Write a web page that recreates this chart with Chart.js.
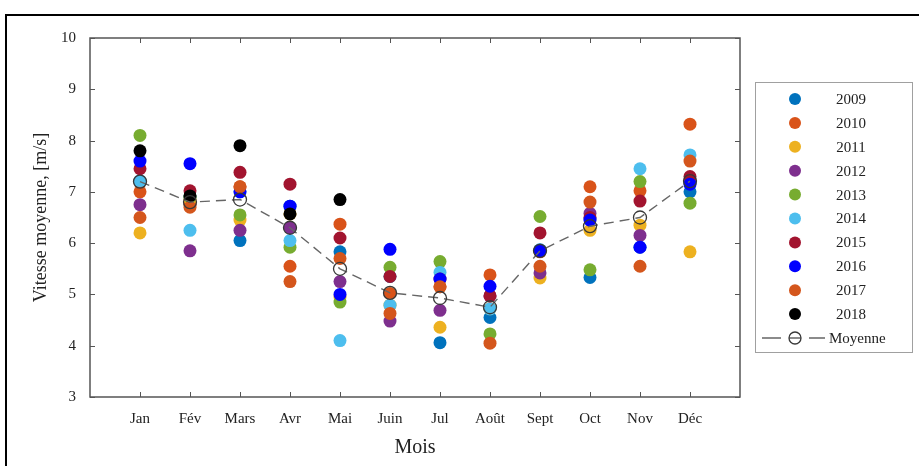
<!DOCTYPE html>
<html lang="fr">
<head>
<meta charset="utf-8">
<script src="https://cdn.jsdelivr.net/npm/chart.js@4/dist/chart.umd.min.js"></script>
<style>
  html, body { margin: 0; padding: 0; background: #fff; overflow: hidden; }
  #wrap { position: relative; width: 919px; height: 466px; }
  #frame { position: absolute; left: 5px; top: 14px; width: 1000px; height: 600px;
           border: 2px solid #000; box-sizing: border-box; pointer-events: none; }
  canvas { position: absolute; left: 0; top: 0; }
</style>
</head>
<body>
<div id="wrap">
  <canvas id="c" width="919" height="466"></canvas>
  <div id="frame"></div>
</div>
<script>
// Vitesse moyenne mensuelle du vent, par année (m/s)
const months = ['Jan', 'Fév', 'Mars', 'Avr', 'Mai', 'Juin', 'Jul', 'Août', 'Sept', 'Oct', 'Nov', 'Déc'];
const years = ['2009', '2010', '2011', '2012', '2013', '2014', '2015', '2016', '2017', '2018'];
const yTicks = [3, 4, 5, 6, 7, 8, 9, 10];

const v2009 = [7.20, 6.90, 6.05, 6.72, 5.83, 5.35, 4.06, 4.55, 5.87, 5.33, 5.92, 7.00];
const v2010 = [7.00, 6.75, 7.10, 5.55, 6.37, 5.02, 5.15, 5.38, 5.83, 7.10, 7.02, 8.32];
const v2011 = [6.20, 6.85, 6.45, 6.57, 4.95, 4.79, 4.36, 4.72, 5.32, 6.25, 6.35, 5.83];
const v2012 = [6.75, 5.85, 6.25, 6.30, 5.25, 4.48, 4.69, 4.97, 5.42, 6.58, 6.15, 7.22];
const v2013 = [8.10, 6.90, 6.55, 5.92, 4.85, 5.53, 5.64, 4.23, 6.52, 5.48, 7.20, 6.78];
const v2014 = [7.22, 6.25, 7.00, 6.05, 4.10, 4.79, 5.43, 4.72, 5.86, 6.47, 7.45, 7.72];
const v2015 = [7.45, 7.02, 7.38, 7.15, 6.10, 5.35, 5.30, 4.97, 6.20, 6.50, 6.82, 7.30];
const v2016 = [7.60, 7.55, 7.00, 6.72, 5.00, 5.88, 5.30, 5.16, 5.85, 6.45, 5.92, 7.15];
const v2017 = [6.50, 6.70, 7.10, 5.25, 5.70, 4.63, 5.15, 4.05, 5.55, 6.80, 5.55, 7.60];
const v2018 = [7.80, 6.92, 7.90, 6.57, 6.85, null, null, null, null, null, null, null];
const moyenne = [7.20, 6.80, 6.85, 6.30, 5.50, 5.03, 4.93, 4.75, 5.85, 6.33, 6.50, 7.21];

const series = [v2009, v2010, v2011, v2012, v2013, v2014, v2015, v2016, v2017, v2018];
const colors = ['#0072BD', '#D95319', '#EDB120', '#7E2F8E', '#77AC30',
                '#4DBEEE', '#A2142F', '#0000FF', '#D4561C', '#000000'];

const FONT = '"Liberation Serif", "DejaVu Serif", serif';
const toPoints = arr => arr.map((v, i) => ({ x: i, y: v })).filter(p => p.y !== null);

// Later years are drawn over earlier ones; the mean goes on top of everything
const datasets = series.map((vals, k) => ({
  label: years[k],
  data: toPoints(vals),
  backgroundColor: colors[k],
  borderColor: colors[k],
  borderWidth: 0,
  pointRadius: 6.5,
  pointHoverRadius: 6.5,
  showLine: false,
  order: series.length - k + 1
}));
datasets.push({
  label: 'Moyenne',
  data: toPoints(moyenne),
  showLine: true,
  borderColor: '#666666',
  borderWidth: 1.4,
  borderDash: [10, 6],
  backgroundColor: 'rgba(255,255,255,0)',
  pointBackgroundColor: 'rgba(255,255,255,0)',
  pointBorderColor: '#383838',
  pointBorderWidth: 1.3,
  pointRadius: 6.5,
  pointHoverRadius: 6.5,
  order: 0
});

// Axis box with inward tick marks on all four sides
const framePlugin = {
  id: 'axisFrame',
  beforeDatasetsDraw(chart) {
    const { ctx, chartArea: a, scales: { x, y } } = chart;
    ctx.save();
    ctx.strokeStyle = '#555';
    ctx.lineWidth = 1.5;
    ctx.strokeRect(a.left, a.top, a.right - a.left, a.bottom - a.top);
    ctx.lineWidth = 1;
    ctx.beginPath();
    months.forEach((m, i) => {
      const px = Math.round(x.getPixelForValue(i)) + 0.5;
      ctx.moveTo(px, a.bottom); ctx.lineTo(px, a.bottom - 5);
      ctx.moveTo(px, a.top); ctx.lineTo(px, a.top + 5);
    });
    yTicks.forEach(v => {
      const py = Math.round(y.getPixelForValue(v)) + 0.5;
      ctx.moveTo(a.left, py); ctx.lineTo(a.left + 5, py);
      ctx.moveTo(a.right, py); ctx.lineTo(a.right - 5, py);
    });
    ctx.stroke();
    ctx.restore();
  }
};

// Boxed legend to the right of the plot
const legendPlugin = {
  id: 'boxLegend',
  afterDraw(chart) {
    const { ctx } = chart;
    const bx = 755, by = 82, bw = 157, bh = 270;
    const rowTop = 99, rowStep = 23.9, mx = 795;
    ctx.save();
    ctx.fillStyle = '#fff';
    ctx.fillRect(bx, by, bw, bh);
    ctx.strokeStyle = '#a0a0a0';
    ctx.lineWidth = 1;
    ctx.strokeRect(bx + 0.5, by + 0.5, bw, bh);
    ctx.font = '15px ' + FONT;
    ctx.textBaseline = 'middle';
    years.forEach((yr, k) => {
      const ry = rowTop + k * rowStep;
      ctx.fillStyle = colors[k];
      ctx.beginPath(); ctx.arc(mx, ry, 6, 0, Math.PI * 2); ctx.fill();
      ctx.fillStyle = '#222';
      ctx.textAlign = 'center';
      ctx.fillText(yr, 851, ry + 1);
    });
    const my = rowTop + years.length * rowStep;
    const mean = chart.data.datasets[chart.data.datasets.length - 1];
    ctx.strokeStyle = mean.borderColor;
    ctx.lineWidth = 1.4;
    ctx.beginPath();
    ctx.moveTo(762, my); ctx.lineTo(781, my);
    ctx.moveTo(789, my); ctx.lineTo(801, my);
    ctx.moveTo(809, my); ctx.lineTo(825, my);
    ctx.stroke();
    ctx.beginPath(); ctx.arc(mx, my, 6, 0, Math.PI * 2);
    ctx.strokeStyle = mean.pointBorderColor; ctx.lineWidth = 1.3; ctx.stroke();
    ctx.fillStyle = '#222';
    ctx.textAlign = 'left';
    ctx.fillText(mean.label, 829, my + 1);
    ctx.restore();
  }
};

new Chart(document.getElementById('c'), {
  type: 'scatter',
  data: { datasets },
  plugins: [framePlugin, legendPlugin],
  options: {
    responsive: false,
    animation: false,
    events: [],
    layout: { padding: { left: 30, right: 179, top: 38, bottom: 0 } },
    plugins: { legend: { display: false }, tooltip: { enabled: false } },
    scales: {
      x: {
        type: 'linear',
        min: -1, max: 12,
        afterFit: s => { s.height = 69; },
        afterBuildTicks: s => { s.ticks = months.map((m, i) => ({ value: i })); },
        grid: { display: false, drawTicks: false },
        border: { display: false },
        ticks: {
          padding: 13,
          color: '#222',
          font: { family: FONT, size: 15 },
          maxRotation: 0,
          autoSkip: false,
          callback: v => months[v] ?? ''
        },
        title: {
          display: true, text: 'Mois', color: '#222',
          font: { family: FONT, size: 20 }, padding: { top: 0, bottom: 6 }
        }
      },
      y: {
        min: 3, max: 10,
        afterFit: s => { s.width = 60; },
        afterBuildTicks: s => { s.ticks = yTicks.map(v => ({ value: v })); },
        grid: { display: false, drawTicks: false },
        border: { display: false },
        ticks: {
          padding: 14,
          color: '#222',
          font: { family: FONT, size: 15 }
        },
        title: {
          display: true, text: 'Vitesse moyenne, [m/s]', color: '#222',
          font: { family: FONT, size: 18 }, padding: { top: 0, bottom: 0 }
        }
      }
    }
  }
});
</script>
</body>
</html>
